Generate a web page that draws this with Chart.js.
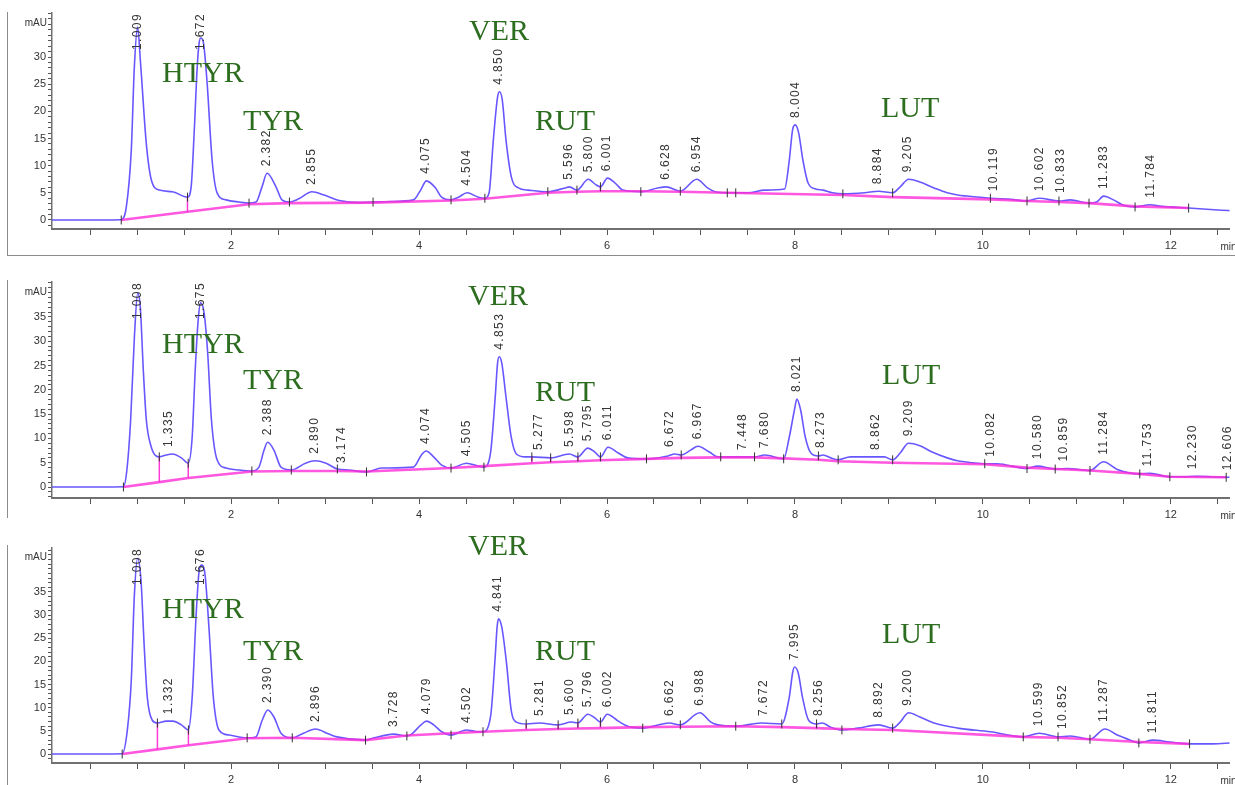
<!DOCTYPE html>
<html><head><meta charset="utf-8">
<script src="https://cdn.jsdelivr.net/npm/chart.js@4.4.1/dist/chart.umd.min.js"></script>
<style>
html,body{margin:0;padding:0;background:#fff;overflow:hidden;width:1235px;height:785px;position:relative;}
canvas{position:absolute;left:0;}
.frame{position:absolute;left:7px;border-left:1.5px solid #8c8c8c;}
</style></head><body>
<div class="frame" style="top:12px;height:243px;width:1228px;border-bottom:1.5px solid #8c8c8c"></div>
<div class="frame" style="top:280px;height:238px"></div>
<div class="frame" style="top:545px;height:240px"></div>
<canvas id="c1" width="1235" height="260" style="top:0px"></canvas>
<canvas id="c2" width="1235" height="259" style="top:270px"></canvas>
<canvas id="c3" width="1235" height="264" style="top:530px"></canvas>
<script>
// ---------- shared axis data ----------
const xTickLabels = [2, 4, 6, 8, 10, 12];
const yTickLabels1 = [0, 5, 10, 15, 20, 25, 30];
const yTickLabels2 = [0, 5, 10, 15, 20, 25, 30, 35];
const yTickLabels3 = [0, 5, 10, 15, 20, 25, 30, 35];
const compoundNames = ['HTYR', 'TYR', 'VER', 'RUT', 'LUT'];

// ---------- panel 1 ----------
const sig1T = [0.09,0.60,0.83,0.884,0.937,0.969,1.004,1.035,1.097,1.150,1.235,1.373,1.535,1.574,1.606,1.638,1.659,1.677,1.705,1.744,1.797,1.850,1.946,2.084,2.19,2.264,2.328,2.382,2.477,2.540,2.62,2.72,2.86,2.99,3.15,3.36,3.51,3.70,3.94,4.016,4.078,4.175,4.239,4.34,4.42,4.51,4.63,4.70,4.745,4.79,4.835,4.855,4.885,4.925,4.982,5.056,5.162,5.37,5.555,5.60,5.68,5.80,5.88,5.93,6.005,6.086,6.17,6.36,6.54,6.63,6.78,6.955,7.07,7.15,7.28,7.50,7.68,7.89,7.94,7.975,8.004,8.04,8.085,8.14,8.22,8.30,8.40,8.51,8.74,8.89,9.04,9.12,9.21,9.33,9.48,9.62,9.73,9.83,10.08,10.30,10.47,10.60,10.81,10.93,11.13,11.21,11.285,11.39,11.51,11.62,11.78,11.90,12.19,12.54,12.65];
const sig1V = [0,0,0.05,2.4,12.9,28,35.5,29,14,7.4,5.5,5.2,4.2,6.1,16,28,32.6,33.5,32.6,25.2,11,5,3.7,3.3,3.1,3.3,6.1,8.6,6.1,3.7,3.3,3.9,5.2,4.6,3.6,3.2,3.3,3.4,3.7,5.5,7.2,5.9,4.2,3.7,4.2,5.0,4.2,4.0,5.0,14.7,22.6,23.6,22.1,14.7,7.9,5.9,5.5,5.2,5.9,6.1,5.5,7.5,6.5,6.1,7.7,6.8,5.5,5.2,5.9,6.1,5.3,7.5,5.9,5.2,5.0,5.0,5.5,5.7,11,16.6,17.5,16.0,11,6.8,5.7,5.5,5.0,4.8,5.0,5.3,5.0,6.1,7.5,7.0,5.9,5.0,4.6,4.4,4.0,3.8,3.5,4.0,3.5,3.7,3.1,3.3,4.4,3.7,2.6,2.4,2.8,2.5,2.2,1.8,1.7];
const base1T = [0.83,1.535,2.19,2.62,3.51,4.34,4.70,5.37,5.68,5.93,6.36,6.78,7.28,8.51,9.04,10.08,10.47,10.81,11.13,11.62,12.19];
const base1V = [0,1.5,2.9,3.1,3.2,3.6,3.9,5.0,5.2,5.3,5.3,5.2,5.0,4.6,4.2,3.8,3.5,3.3,3.1,2.5,2.2];
const drop1T = [1.535, 5.68, 5.93];
const drop1Lo = [1.5, 5.2, 5.3];
const drop1Hi = [4.2, 5.5, 6.1];
const tick1T = [0.83,1.535,2.19,2.62,3.51,4.34,4.70,5.37,5.68,5.93,6.36,6.78,7.28,7.37,8.51,9.04,10.08,10.47,10.81,11.13,11.62,12.19];
const tick1V = [0,4.2,3.1,3.3,3.3,3.7,4.0,5.2,5.5,6.1,5.2,5.3,5.0,5.0,4.8,5.0,4.0,3.5,3.5,3.1,2.4,2.2];
const peak1RT = ['1.009','1.672','2.382','2.855','4.075','4.504','4.850','5.596','5.800','6.001','6.628','6.954','8.004','8.884','9.205','10.119','10.602','10.833','11.283','11.784'];
const peak1H = [35.5,33.5,8.6,5.2,7.2,5.0,23.6,6.1,7.5,7.7,6.1,7.5,17.5,5.3,7.5,4.0,4.0,3.7,4.4,2.8];

// ---------- panel 2 ----------
const sig2T = [0.09,0.60,0.853,0.89,0.93,0.97,1.005,1.033,1.065,1.097,1.15,1.20,1.235,1.31,1.373,1.47,1.543,1.585,1.617,1.649,1.675,1.712,1.75,1.79,1.85,1.946,2.084,2.22,2.296,2.35,2.388,2.455,2.53,2.64,2.79,2.89,3.01,3.13,3.25,3.44,3.60,3.94,4.025,4.074,4.155,4.24,4.34,4.505,4.63,4.69,4.76,4.81,4.835,4.853,4.88,4.925,4.98,5.035,5.13,5.20,5.40,5.60,5.69,5.795,5.87,5.93,6.011,6.12,6.22,6.42,6.65,6.72,6.79,6.89,6.967,7.09,7.18,7.36,7.57,7.68,7.88,7.94,7.995,8.021,8.06,8.11,8.17,8.25,8.30,8.38,8.46,8.59,8.95,9.04,9.12,9.209,9.33,9.46,9.62,9.73,9.89,10.02,10.15,10.47,10.58,10.77,10.90,11.14,11.284,11.43,11.56,11.67,11.78,11.99,12.14,12.28,12.59,12.65];
const sig2V = [0,0,0.05,3.5,13.8,30.9,39.9,37,24,13.8,8.2,6.4,6.2,6.6,6.8,6.0,4.9,10.3,24,34.4,37.9,35.8,27.6,13.8,5.6,3.9,3.5,3.3,4.1,7.6,9.2,7.6,4.1,3.5,4.9,5.4,4.9,3.7,3.5,3.1,3.9,4.1,6.6,7.4,6.2,4.5,3.9,4.9,4.3,4.1,7.0,18.5,25.5,26.8,25.5,18.5,10.3,6.8,6.2,6.2,6.0,6.8,6.2,8.0,7.2,6.2,8.2,7.0,6.0,5.8,6.4,6.8,6.6,7.6,8.4,7.2,6.2,6.2,6.2,6.6,5.8,10.3,15.9,18.1,15.9,10.3,7.0,6.4,6.6,6.0,5.6,6.2,6.2,5.6,7.0,9.0,8.5,7.2,6.0,5.4,5.0,4.8,4.8,3.8,4.3,3.7,3.8,3.4,5.2,3.6,2.9,2.7,2.8,2.1,2.1,2.2,2.0,2.0];
const base2T = [0.853,1.235,1.543,2.22,2.64,3.13,3.44,4.34,4.69,5.20,5.40,5.69,5.93,6.42,6.79,7.21,7.57,7.88,8.25,8.46,9.04,10.02,10.47,10.77,11.14,11.67,11.99,12.59];
const base2V = [0,1.0,1.85,3.2,3.3,3.3,3.2,3.9,4.3,4.9,5.1,5.3,5.5,5.8,6.0,6.1,6.1,5.9,5.6,5.3,5.0,4.7,4.0,3.7,3.4,2.7,2.1,2.0];
const drop2T = [1.235, 1.543, 5.20, 5.40, 5.69, 5.93, 6.79, 8.25];
const drop2Lo = [1.0, 1.85, 4.9, 5.1, 5.3, 5.5, 6.0, 5.6];
const drop2Hi = [6.2, 4.9, 6.2, 6.0, 6.2, 6.2, 6.6, 6.4];
const tick2T = [0.853,1.235,1.543,2.22,2.64,3.13,3.44,4.34,4.69,5.20,5.40,5.69,5.93,6.42,6.79,7.21,7.57,7.88,8.25,8.46,9.04,10.02,10.47,10.77,11.14,11.67,11.99,12.59];
const tick2V = [0,6.2,4.9,3.3,3.5,3.7,3.1,3.9,4.1,6.2,6.0,6.2,6.2,5.8,6.6,6.2,6.2,5.8,6.4,5.6,5.6,4.8,3.8,3.7,3.4,2.7,2.1,2.0];
const peak2RT = ['1.008','1.335','1.675','2.388','2.890','3.174','4.074','4.505','4.853','5.277','5.598','5.795','6.011','6.672','6.967','7.448','7.680','8.021','8.273','8.862','9.209','10.082','10.580','10.859','11.284','11.753','12.230','12.606'];
const peak2H = [39.9,6.8,37.9,9.2,5.4,3.5,7.4,4.9,26.8,6.2,6.8,8.0,8.2,6.8,8.4,6.2,6.6,18.1,6.6,6.2,9.0,4.8,4.3,3.8,5.2,2.8,2.2,2.0];

// ---------- panel 3 ----------
const sig3T = [0.09,0.60,0.84,0.895,0.937,0.969,1.004,1.04,1.075,1.107,1.16,1.215,1.31,1.38,1.47,1.545,1.585,1.628,1.66,1.685,1.72,1.765,1.81,1.87,1.98,2.17,2.264,2.33,2.39,2.455,2.53,2.65,2.77,2.896,3.04,3.125,3.43,3.52,3.728,3.87,3.92,4.02,4.079,4.155,4.24,4.34,4.502,4.63,4.68,4.76,4.81,4.83,4.845,4.88,4.93,4.98,5.035,5.14,5.281,5.48,5.62,5.69,5.796,5.87,5.93,6.002,6.12,6.22,6.38,6.662,6.78,6.988,7.105,7.18,7.37,7.64,7.86,7.94,7.975,7.995,8.035,8.08,8.145,8.23,8.29,8.38,8.50,8.67,8.892,9.04,9.12,9.21,9.33,9.48,9.73,10.08,10.43,10.60,10.80,10.93,11.14,11.30,11.43,11.57,11.66,11.81,11.99,12.20,12.45,12.65];
const sig3V = [0,0,0.05,5.2,16,34,42.3,37.6,23,12.3,7.3,6.7,7.1,7.1,6.3,5.2,12.3,30.4,39.7,40.8,39,26.8,12.3,5.2,4.1,3.5,3.7,7.3,9.5,8.0,4.5,3.5,4.5,5.4,4.3,3.7,3.0,3.5,4.3,3.9,4.3,6.3,7.1,6.3,4.8,4.1,5.2,4.8,4.8,8.0,21,27.4,29.2,27.4,19.7,9.5,6.9,6.5,6.7,6.3,6.9,6.7,8.6,7.8,6.9,8.6,7.1,6.0,5.6,6.7,6.3,8.9,6.9,6.3,6.0,6.7,6.5,12.3,17.5,18.8,17.5,12.3,7.3,6.5,6.7,5.8,5.2,5.6,6.3,5.6,6.9,8.9,8.0,6.7,5.6,4.8,3.7,4.5,3.7,3.9,3.2,5.4,4.1,3.0,2.4,3.0,2.6,2.2,2.2,2.4];
const base3T = [0.84,1.215,1.545,2.17,2.65,3.43,3.87,4.34,4.68,5.14,5.48,5.69,5.93,6.38,6.78,7.37,7.86,8.23,8.50,9.04,10.43,10.80,11.14,11.66,12.20];
const base3V = [0,1.0,1.9,3.4,3.5,3.0,4.0,4.5,4.8,5.2,5.4,5.5,5.6,5.8,5.9,6.0,5.8,5.6,5.4,5.2,3.7,3.5,3.2,2.6,2.2];
const drop3T = [1.215, 1.545, 5.14, 5.48, 5.69, 5.93, 8.23];
const drop3Lo = [1.0, 1.9, 5.2, 5.4, 5.5, 5.6, 5.6];
const drop3Hi = [6.7, 5.2, 6.5, 6.3, 6.7, 6.9, 6.5];
const tick3T = [0.84,1.215,1.545,2.17,2.65,3.43,3.87,4.34,4.68,5.14,5.48,5.69,5.93,6.38,6.78,7.37,7.86,8.23,8.50,9.04,10.43,10.80,11.14,11.66,12.20];
const tick3V = [0,6.7,5.2,3.5,3.5,3.0,3.9,4.1,4.8,6.5,6.3,6.7,6.9,5.6,6.3,6.0,6.5,6.5,5.2,5.6,3.7,3.7,3.2,2.4,2.2];
const peak3RT = ['1.008','1.332','1.676','2.390','2.896','3.728','4.079','4.502','4.841','5.281','5.600','5.796','6.002','6.662','6.988','7.672','7.995','8.256','8.892','9.200','10.599','10.852','11.287','11.811'];
const peak3H = [42.3,7.1,40.8,9.5,5.4,4.3,7.1,5.2,29.2,6.7,6.9,8.6,8.6,6.7,8.9,6.7,18.8,6.7,6.3,8.9,4.5,3.9,5.4,3.0];

// ---------- drawing ----------
const SANS = '"Liberation Sans Narrow", "Liberation Sans", Arial, sans-serif';
const RTFONT = '12px "Liberation Sans", Arial, sans-serif';
const SERIF = '30px "Liberation Serif", "Times New Roman", serif';

const overlay = {
  id: 'overlay',
  afterDatasetsDraw(chart, args, o) {
    const ctx = chart.ctx, xs = chart.scales.x, ys = chart.scales.y, ca = chart.chartArea;
    ctx.save();
    ctx.font = RTFONT;
    try { ctx.letterSpacing = '1.4px'; } catch (e) {}
    ctx.fillStyle = '#353535';
    ctx.textAlign = 'left';
    ctx.textBaseline = 'middle';
    o.rt.forEach((lab, i) => {
      const x = xs.getPixelForValue(parseFloat(lab));
      const apex = ys.getPixelForValue(o.h[i]);
      const w = ctx.measureText(lab).width;
      const bottom = Math.max(apex - 7, ca.top + w);
      ctx.save();
      ctx.translate(x, bottom);
      ctx.rotate(-Math.PI / 2);
      ctx.fillText(lab, 0, 0);
      ctx.restore();
    });
    try { ctx.letterSpacing = '0px'; } catch (e) {}
    ctx.font = SERIF;
    ctx.fillStyle = '#2c6d1f';
    ctx.textBaseline = 'alphabetic';
    compoundNames.forEach((n, i) => ctx.fillText(n, o.namePos[i][0], o.namePos[i][1]));
    ctx.font = '10px ' + SANS;
    ctx.fillStyle = '#333';
    ctx.textAlign = 'right';
    ctx.textBaseline = 'middle';
    ctx.fillText('mAU', ca.left - 5, ca.top + o.mauDy);
    ctx.textAlign = 'left';
    ctx.fillText('min', ca.right - 9, ca.bottom + 18);
    ctx.restore();
  }
};

function xy(T, V) { return T.map((t, i) => ({ x: t, y: V[i] })); }

function makeChart(id, p) {
  const datasets = [
    { data: xy(p.sigT, p.sigV), showLine: true, borderColor: 'rgba(96,78,255,0.95)', borderWidth: 1.6,
      pointRadius: 0, cubicInterpolationMode: 'monotone', order: 3 },
    { data: xy(p.baseT, p.baseV), showLine: true, borderColor: 'rgba(255,45,215,0.8)', borderWidth: 2.6,
      pointRadius: 0, tension: 0, order: 2 }
  ];
  p.dropT.forEach((t, i) => datasets.push({
    data: [{ x: t, y: p.dropLo[i] }, { x: t, y: p.dropHi[i] }], showLine: true,
    borderColor: 'rgba(255,40,210,0.9)', borderWidth: 1.5, pointRadius: 0, order: 1 }));
  datasets.push({ data: xy(p.tickT, p.tickV), showLine: false, pointStyle: 'line', rotation: 90,
    pointRadius: 4.5, borderColor: '#333', borderWidth: 1, order: 0 });

  new Chart(document.getElementById(id), {
    type: 'scatter',
    data: { datasets },
    plugins: [overlay],
    options: {
      responsive: false, animation: false, devicePixelRatio: 1, events: [],
      layout: { padding: { top: p.padTop, left: 0, right: 0, bottom: 0 } },
      plugins: { legend: { display: false }, tooltip: { enabled: false },
        overlay: { rt: p.rt, h: p.h, namePos: p.namePos, mauDy: p.mauDy } },
      scales: {
        x: {
          type: 'linear', min: 0.093, max: 12.625,
          afterFit: s => { s.height = 31; s.paddingRight = 0; s.paddingLeft = 0; },
          border: { display: true, color: '#707070', width: 2 },
          grid: { display: true, drawOnChartArea: false, drawTicks: true, tickLength: 6, tickColor: '#555', tickWidth: 1 },
          ticks: { stepSize: 0.5, includeBounds: false, autoSkip: false, maxRotation: 0, padding: 4,
            color: '#333', font: { family: SANS, size: 11 },
            callback: v => (xTickLabels.includes(v) ? String(v) : '') }
        },
        y: {
          type: 'linear', min: p.yMin, max: p.yMax,
          afterFit: s => { s.width = 52; s.paddingTop = 0; s.paddingBottom = 0; },
          border: { display: true, color: '#707070', width: 1.5 },
          grid: { display: true, drawOnChartArea: false, drawTicks: true, tickLength: 4, tickColor: '#555', tickWidth: 1 },
          ticks: { stepSize: 1, includeBounds: false, autoSkip: false, padding: 2,
            color: '#333', font: { family: SANS, size: 11 },
            callback: v => (p.yLabels.includes(v) ? String(v) : '') }
        }
      }
    }
  });
}

makeChart('c1', { sigT: sig1T, sigV: sig1V, baseT: base1T, baseV: base1V, dropT: drop1T, dropLo: drop1Lo, dropHi: drop1Hi,
  tickT: tick1T, tickV: tick1V, rt: peak1RT, h: peak1H, yLabels: yTickLabels1,
  yMin: -1.66, yMax: 38.1, padTop: 13, mauDy: 10,
  namePos: [[162, 82], [243, 130], [469, 40], [535, 130], [881, 117]] });
makeChart('c2', { sigT: sig2T, sigV: sig2V, baseT: base2T, baseV: base2V, dropT: drop2T, dropLo: drop2Lo, dropHi: drop2Hi,
  tickT: tick2T, tickV: tick2V, rt: peak2RT, h: peak2H, yLabels: yTickLabels2,
  yMin: -2.26, yMax: 42.2, padTop: 12, mauDy: 10,
  namePos: [[162, 83], [243, 119], [468, 35], [535, 131], [882, 114]] });
makeChart('c3', { sigT: sig3T, sigV: sig3V, baseT: base3T, baseV: base3V, dropT: drop3T, dropLo: drop3Lo, dropHi: drop3Hi,
  tickT: tick3T, tickV: tick3V, rt: peak3RT, h: peak3H, yLabels: yTickLabels3,
  yMin: -1.94, yMax: 44.5, padTop: 18, mauDy: 9,
  namePos: [[162, 88], [243, 130], [468, 25], [535, 130], [882, 113]] });
</script>
</body></html>
